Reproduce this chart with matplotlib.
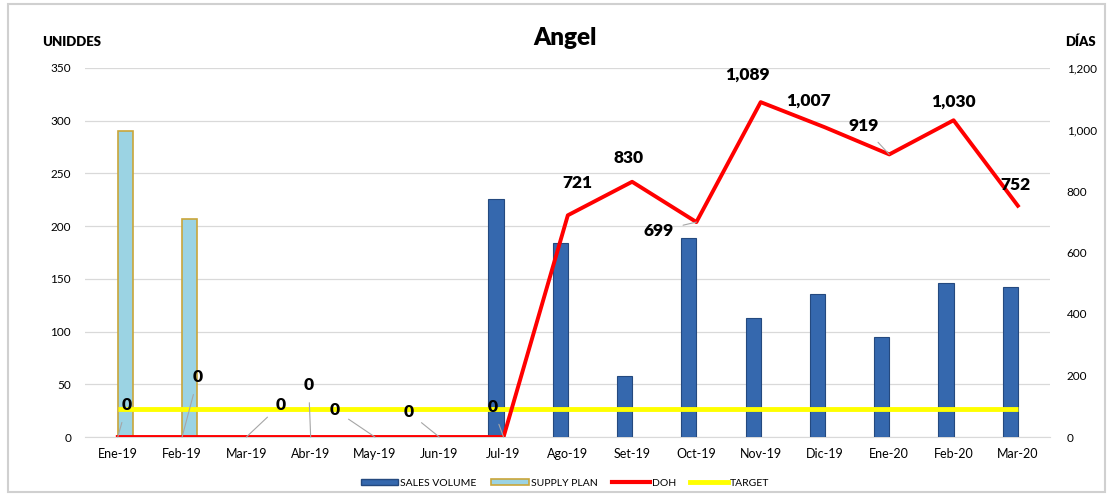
import matplotlib
matplotlib.use("Agg")
import matplotlib.pyplot as plt
from matplotlib.patches import Rectangle
from matplotlib.lines import Line2D
from matplotlib.patches import Patch
import numpy as np

plt.rcParams['font.family'] = ['Lato', 'DejaVu Sans']

categories = ["Ene-19", "Feb-19", "Mar-19", "Abr-19", "May-19", "Jun-19", "Jul-19",
              "Ago-19", "Set-19", "Oct-19", "Nov-19", "Dic-19", "Ene-20", "Feb-20", "Mar-20"]
sales_volume = [0, 0, 0, 0, 0, 0, 226, 184, 58, 189, 113, 136, 95, 146, 142]
supply_plan = [290, 207, 0, 0, 0, 0, 0, 0, 0, 0, 0, 0, 0, 0, 0]
doh = [0, 0, 0, 0, 0, 0, 0, 721, 830, 699, 1089, 1007, 919, 1030, 752]
target = [90] * 15

# label offsets in pixels (dx, dy) and whether to draw a leader line
label_offsets = [(9, 32, True), (16, 60, True), (34, 32, True), (-2, 52, True),
                 (-40, 27, True), (-31, 25, True), (-11, 30, True),
                 (10, 32, False), (-4, 24, False), (-38, -9, True),
                 (-13, 27, False), (-16, 27, False), (-26, 28, True),
                 (0, 19, False), (-2, 21, False)]

fig = plt.figure(figsize=(11.13, 4.98), dpi=100)
fig.patch.set_facecolor('white')
# chart frame
fig.add_artist(Rectangle((8/1113, 6/498), 1097/1113, 488/498, transform=fig.transFigure,
                         fill=False, edgecolor='#d0d0d0', lw=1.5))

ax = fig.add_axes([85/1113, 61/498, 965/1113, 369/498])
ax2 = ax.twinx()
ax.set_zorder(1)
ax2.set_zorder(2)
ax.patch.set_visible(False)

x = np.arange(len(categories))
w = 0.235
sv = np.array(sales_volume, dtype=float)
sp = np.array(supply_plan, dtype=float)
sv_mask = sv > 0
sp_mask = sp > 0
ax.bar(x[sv_mask] - w/2, sv[sv_mask], width=w, color='#3568AE', edgecolor='#24497F', lw=0.8, zorder=3)
ax.bar(x[sp_mask] + w/2, sp[sp_mask], width=w, color='#9BD3E3', edgecolor='#C9A63A', lw=1.2, zorder=3)

ax.set_xlim(-0.51, 14.5)
ax.set_ylim(0, 350)
ax.set_yticks(range(0, 351, 50))
ax.grid(axis='y', color='#d9d9d9', lw=0.9, zorder=0)
ax.set_axisbelow(True)
for s in ax.spines.values():
    s.set_visible(False)
ax.spines['bottom'].set_visible(True)
ax.spines['bottom'].set_color('#d9d9d9')
ax.tick_params(axis='y', length=0, labelsize=8.5, colors='#000000', pad=10)
ax.tick_params(axis='x', length=0, labelsize=9, colors='#000000', pad=8)
ax.set_xticks(x)
ax.set_xticklabels(categories)

ax2.set_ylim(0, 1200)
ax2.set_yticks(range(0, 1201, 200))
ax2.set_yticklabels([f"{v:,}" for v in range(0, 1201, 200)])
for s in ax2.spines.values():
    s.set_visible(False)
ax2.tick_params(axis='y', length=0, labelsize=8.5, pad=12)

ax2.plot(x, target, color='#FFFF00', lw=3.5, solid_capstyle='butt', zorder=4)
ax2.plot(x, doh, color='#FF0000', lw=2.8, zorder=5)

for i, v in enumerate(doh):
    dx, dy, lead = label_offsets[i]
    ap = dict(arrowstyle='-', color='#a6a6a6', lw=0.8, shrinkA=5, shrinkB=0) if lead else None
    ax2.annotate(f"{v:,}", xy=(x[i], v), xytext=(dx, dy), textcoords='offset pixels',
                 ha='center', va='center', fontsize=12.5, fontweight='heavy',
                 arrowprops=ap, zorder=6)

fig.text(565/1113, 1 - 38/498, "Angel", ha='center', va='center', fontsize=17.5, fontweight='heavy')
fig.text(42/1113, 1 - 42/498, "UNIDDES", ha='left', va='center', fontsize=9.5, fontweight='heavy')
fig.text(1080/1113, 1 - 42/498, "DÍAS", ha='center', va='center', fontsize=9.5, fontweight='heavy')

handles = [Patch(facecolor='#3568AE', edgecolor='#24497F'),
           Patch(facecolor='#9BD3E3', edgecolor='#C9A63A', lw=1.2),
           Line2D([0], [0], color='#FF0000', lw=3),
           Line2D([0], [0], color='#FFFF00', lw=3.5)]
fig.legend(handles, ["SALES VOLUME", "SUPPLY PLAN", "DOH", "TARGET"], loc='center',
           bbox_to_anchor=(565/1113, 1 - 483/498), ncol=4, frameon=False, fontsize=7.5,
           handlelength=3.6, handleheight=0.5, columnspacing=1.4, handletextpad=0.2)

fig.savefig("out.png", dpi=100, facecolor='white')
